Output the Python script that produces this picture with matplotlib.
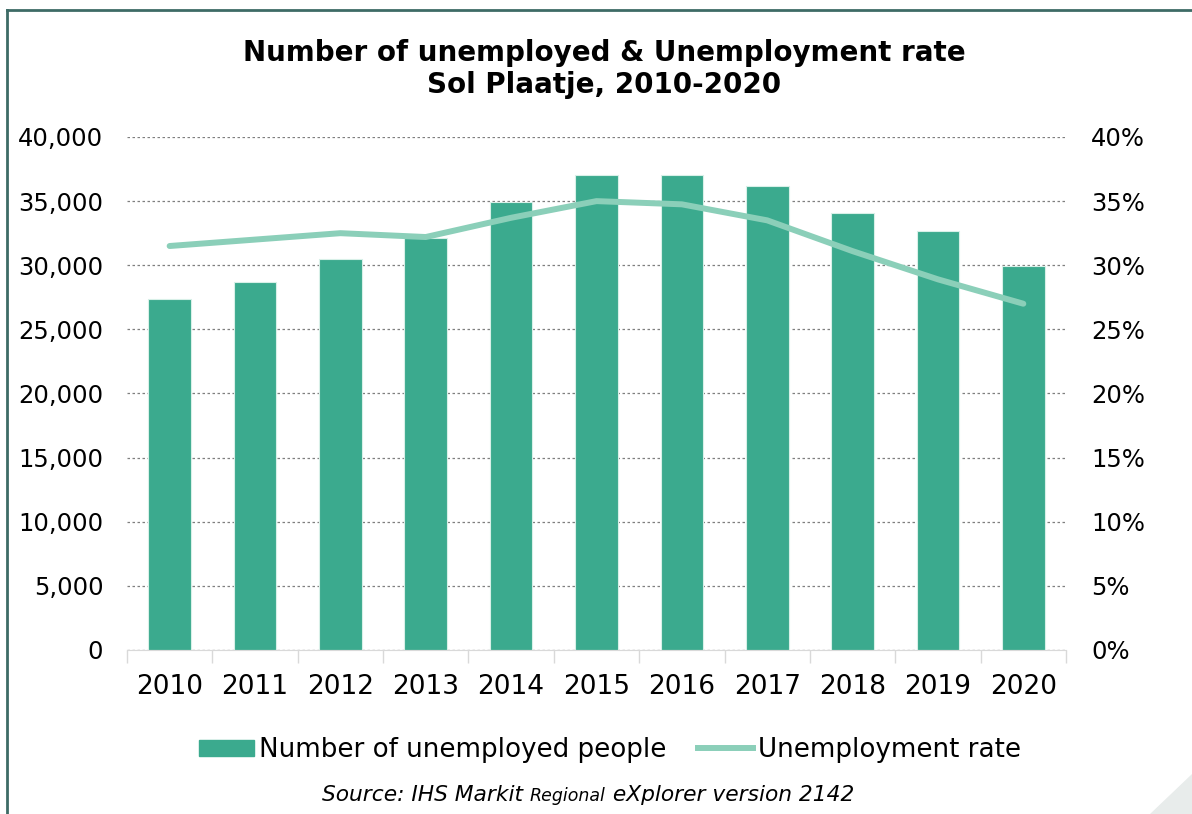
import matplotlib.pyplot as plt
from matplotlib.patches import Polygon
from matplotlib.lines import Line2D
from matplotlib.ticker import FuncFormatter, MultipleLocator

# Sol Plaatje unemployment, 2010-2020
years = ['2010', '2011', '2012', '2013', '2014', '2015', '2016', '2017', '2018', '2019', '2020']
unemployed = [27350, 28720, 30510, 32150, 34930, 37040, 37060, 36180, 34100, 32650, 29920]
rate = [31.5, 32.0, 32.5, 32.2, 33.7, 35.0, 34.75, 33.5, 31.1, 28.9, 27.0]

BAR_COLOR = '#3BAA8E'
LINE_COLOR = '#8BCFB9'
FRAME_COLOR = '#3D6B66'

fig = plt.figure(figsize=(11.92, 8.14), dpi=100)
ax = fig.add_axes([0.1065, 0.2015, 0.7878, 0.6302])
ax2 = ax.twinx()

x = range(len(years))
ax.bar(x, unemployed, width=0.5, color=BAR_COLOR, edgecolor='#D8F0E8', linewidth=0.8, zorder=2)
ax2.plot(x, rate, color=LINE_COLOR, linewidth=4.3, solid_capstyle='round', zorder=3)

ax.set_xlim(-0.5, len(years) - 0.5)
ax.set_ylim(0, 40000)
ax2.set_ylim(0, 40)
ax.yaxis.set_major_locator(MultipleLocator(5000))
ax2.yaxis.set_major_locator(MultipleLocator(5))
ax.yaxis.set_major_formatter(FuncFormatter(lambda v, p: f'{int(v):,}'))
ax2.yaxis.set_major_formatter(FuncFormatter(lambda v, p: f'{int(v)}%'))

ax.set_xticks(list(x))
ax.set_xticklabels(years)
ax.set_xticks([i - 0.5 for i in range(len(years) + 1)], minor=True)
ax.tick_params(axis='x', which='major', length=0, pad=17, labelsize=19)
ax.tick_params(axis='x', which='minor', length=9, color='#D9D9D9', width=1)
ax.tick_params(axis='y', length=0, pad=17, labelsize=17.5)
ax2.tick_params(axis='y', length=0, pad=18, labelsize=17.5)

ax.grid(axis='y', linestyle=(0, (2, 2)), color='#7F7F7F', linewidth=0.9, zorder=0)
ax.set_axisbelow(True)
for a in (ax, ax2):
    for side in ('top', 'left', 'right'):
        a.spines[side].set_visible(False)
    a.spines['bottom'].set_color('#D9D9D9')
ax2.spines['bottom'].set_visible(False)

fig.text(0.507, 0.935, 'Number of unemployed & Unemployment rate', ha='center', va='center',
         fontsize=20, fontweight='bold')
fig.text(0.507, 0.895, 'Sol Plaatje, 2010-2020', ha='center', va='center',
         fontsize=20, fontweight='bold')

handles = [plt.Rectangle((0, 0), 1, 1, color=BAR_COLOR),
           Line2D([0], [0], color=LINE_COLOR, linewidth=4.3)]
fig.legend(handles, ['Number of unemployed people', 'Unemployment rate'],
           loc='center', bbox_to_anchor=(610 / 1192, 1 - 750 / 814), ncol=2, frameon=False,
           fontsize=18.8, handlelength=2.1, handleheight=0.55, columnspacing=1.2, handletextpad=0.2)

# source line with a smaller "Regional"
t1 = fig.text(322 / 1192, 1 - 795 / 814, 'Source: IHS Markit ', fontsize=15.7, style='italic', va='center')
t2 = fig.text(0, 0, 'Regional', fontsize=12.5, style='italic', va='baseline')
t3 = fig.text(0, 0, ' eXplorer version 2142', fontsize=15.7, style='italic', va='baseline')
fig.canvas.draw()
r = fig.canvas.get_renderer()
inv = fig.transFigure.inverted()
b1 = t1.get_window_extent(r)
t2.set_position(inv.transform((b1.x1, b1.y0 + b1.height * 0.22)))
b2 = t2.get_window_extent(r)
t3.set_position(inv.transform((b2.x1, b1.y0 + b1.height * 0.22)))

# frame lines and corner
fig.add_artist(Line2D([7 / 1192, 7 / 1192], [0, 1 - 10 / 814], color=FRAME_COLOR, linewidth=2,
                      transform=fig.transFigure))
fig.add_artist(Line2D([7 / 1192, 1], [1 - 10 / 814, 1 - 10 / 814], color=FRAME_COLOR, linewidth=2,
                      transform=fig.transFigure))
fig.add_artist(Polygon([[1150 / 1192, 0], [1, 0], [1, 40 / 814]], closed=True, color='#E8ECEB',
                       transform=fig.transFigure))

fig.savefig('out.png', dpi=100)
